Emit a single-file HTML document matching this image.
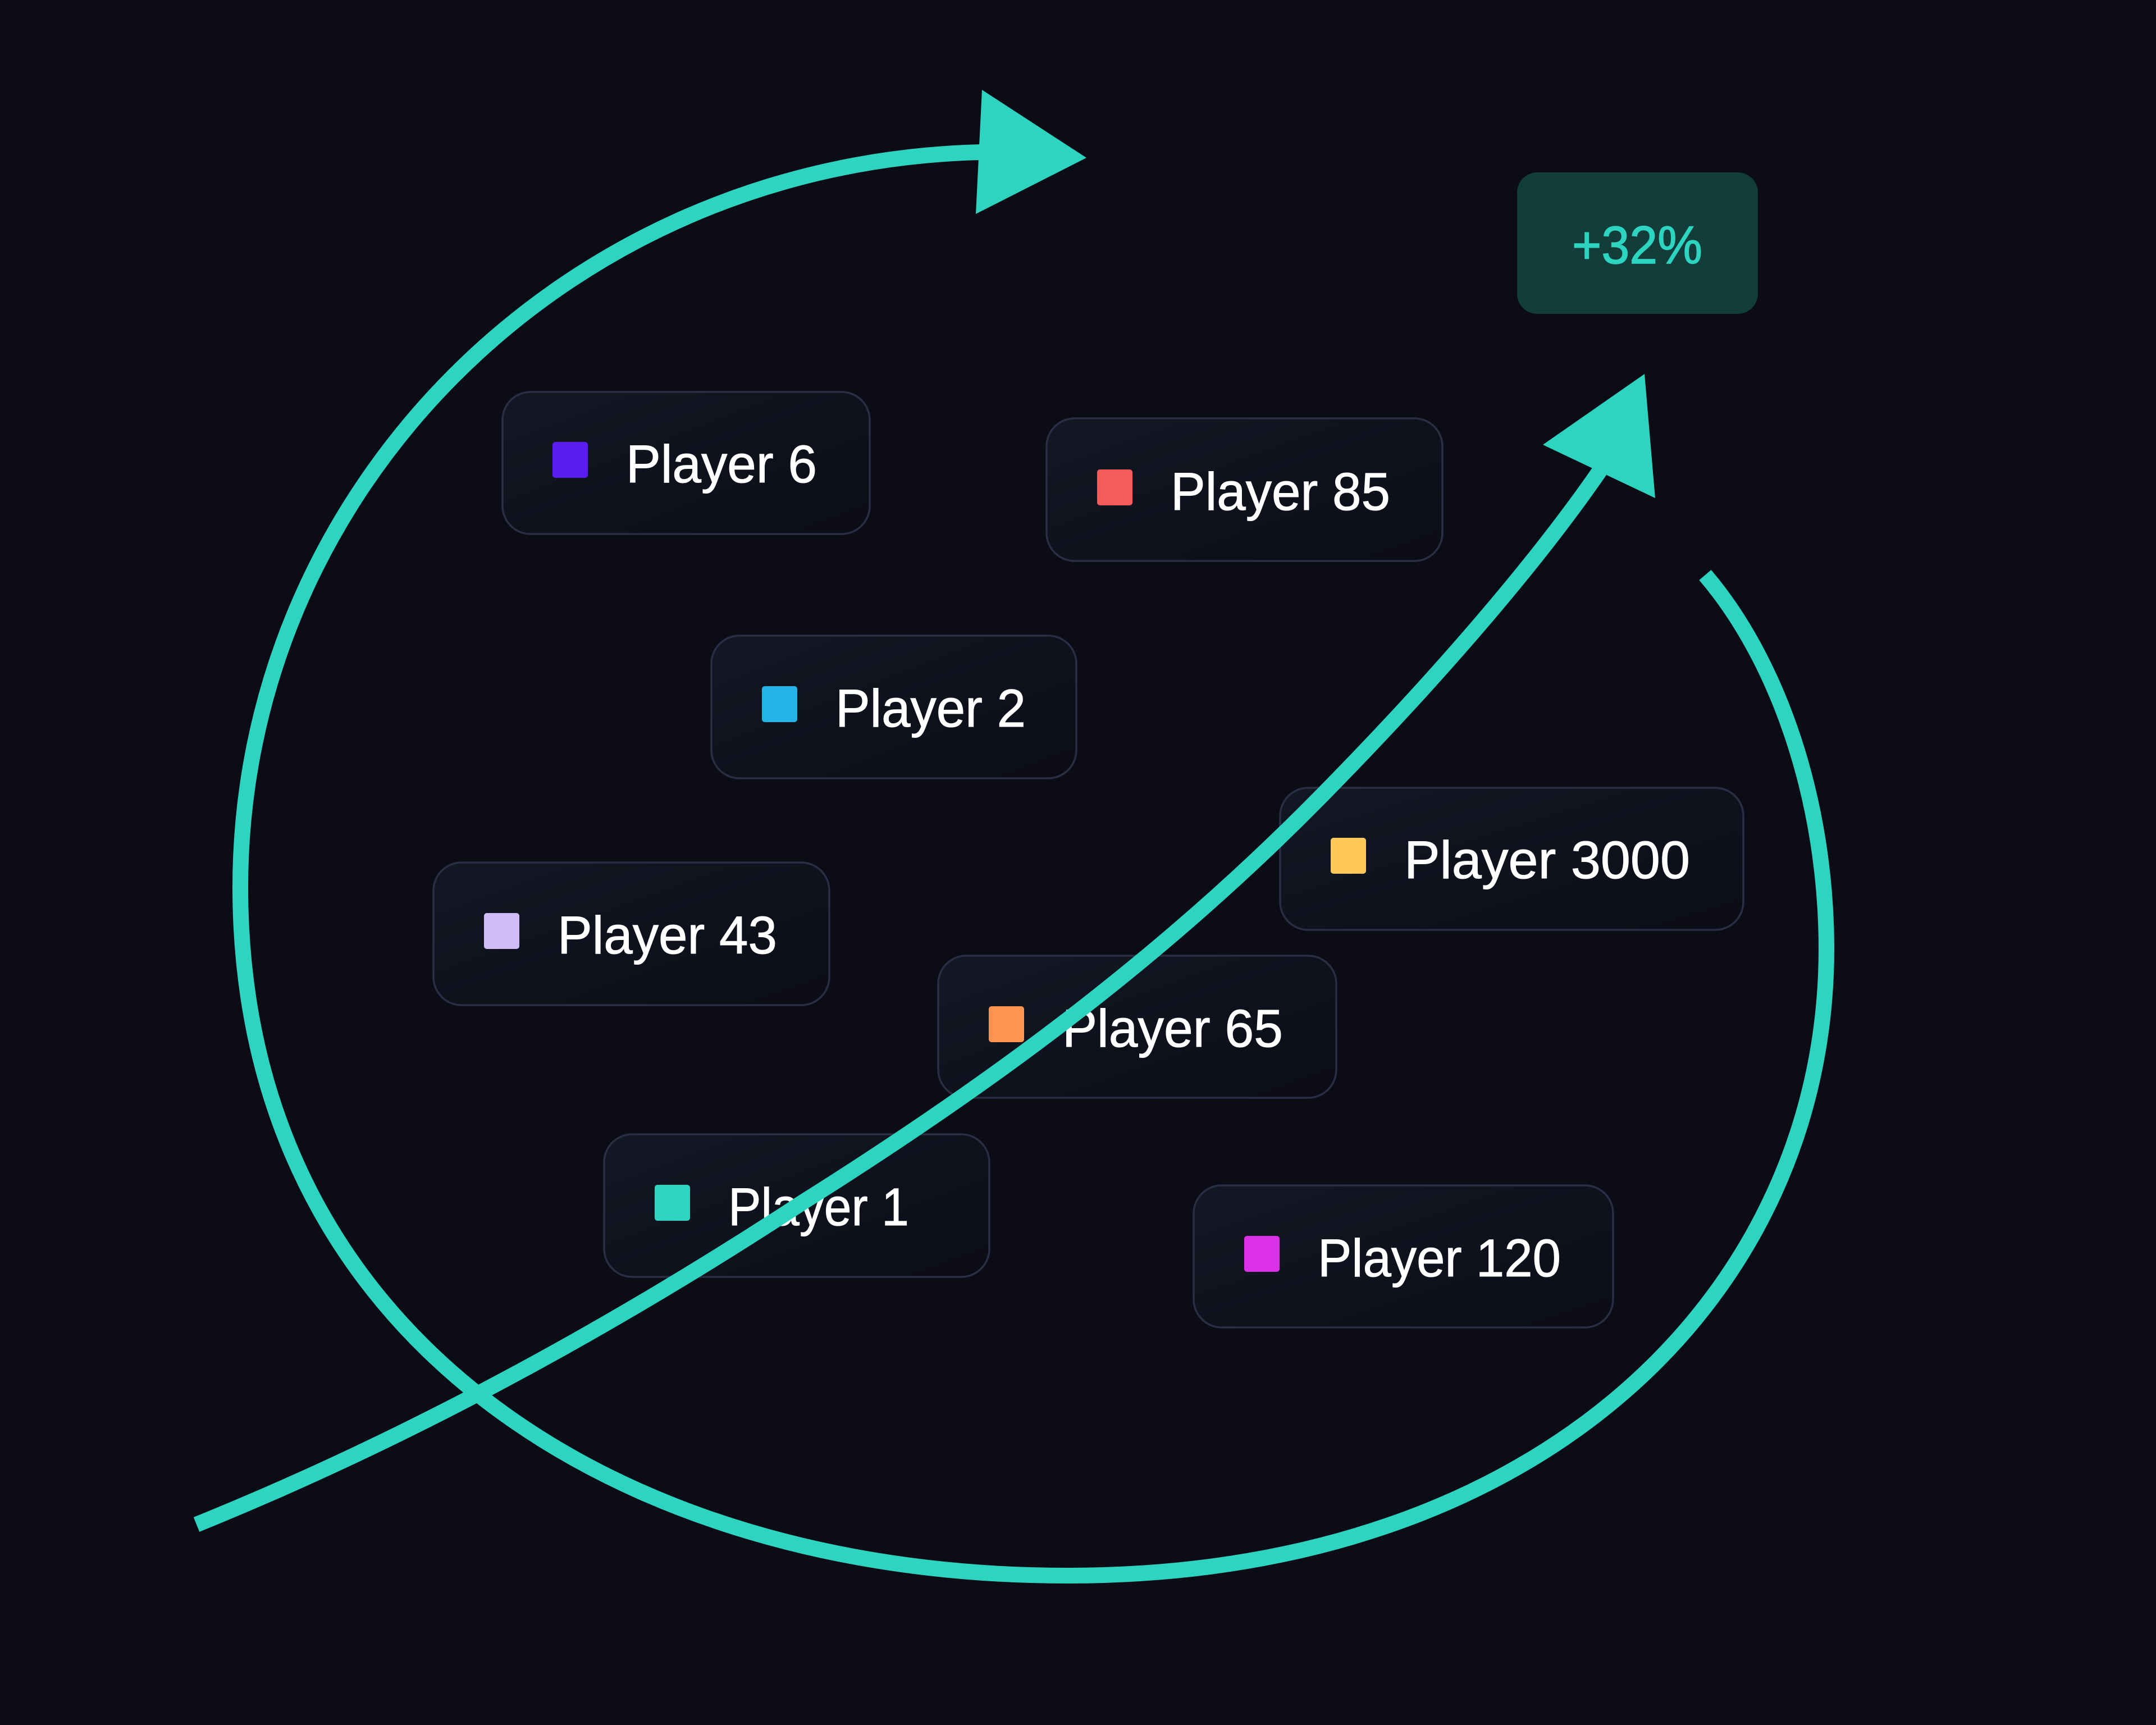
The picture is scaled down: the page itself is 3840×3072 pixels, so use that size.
<!DOCTYPE html>
<html><head><meta charset="utf-8"><style>
html,body{margin:0;padding:0;background:#0b0c16;width:3840px;height:3072px;overflow:hidden}
svg{display:block}
text{font-family:"Liberation Sans",sans-serif}
.b{stroke:#2a2e45;stroke-width:3.5;fill:url(#g)}
.t{fill:#fff;font-size:95px;stroke:#fff;stroke-width:1}
</style></head><body>
<svg width="3840" height="3072" viewBox="0 0 3840 3072" xmlns="http://www.w3.org/2000/svg">
<defs><linearGradient id="g" x1="0" y1="0" x2="1" y2="1"><stop offset="0" stop-color="#121824"/><stop offset="1" stop-color="#0b0c16"/></linearGradient></defs>
<rect width="3840" height="3072" fill="#0b0c16"/>
<rect class="b" x="895" y="698" width="654" height="253" rx="50"/><rect x="984" y="787" width="63" height="64" rx="5" fill="#5b1cf0"/><text class="t" x="1115" y="859" textLength="340" lengthAdjust="spacingAndGlyphs">Player 6</text>
<rect class="b" x="1864" y="745" width="705" height="254" rx="50"/><rect x="1954" y="836" width="63" height="64" rx="5" fill="#f55b5b"/><text class="t" x="2085" y="908" textLength="391" lengthAdjust="spacingAndGlyphs">Player 85</text>
<rect class="b" x="1267" y="1132" width="650" height="254" rx="50"/><rect x="1357" y="1222" width="63" height="64" rx="5" fill="#25b4e6"/><text class="t" x="1488" y="1294" textLength="339" lengthAdjust="spacingAndGlyphs">Player 2</text>
<rect class="b" x="2280" y="1403" width="825" height="253" rx="50"/><rect x="2370" y="1492" width="63" height="64" rx="5" fill="#ffc857"/><text class="t" x="2501" y="1564" textLength="509" lengthAdjust="spacingAndGlyphs">Player 3000</text>
<rect class="b" x="772" y="1536" width="705" height="254" rx="50"/><rect x="862" y="1626" width="63" height="64" rx="5" fill="#cdbcf8"/><text class="t" x="993" y="1698" textLength="391" lengthAdjust="spacingAndGlyphs">Player 43</text>
<rect class="b" x="1671" y="1702" width="709" height="253" rx="50"/><rect x="1761" y="1792" width="63" height="64" rx="5" fill="#ff944f"/><text class="t" x="1892" y="1864" textLength="393" lengthAdjust="spacingAndGlyphs">Player 65</text>
<rect class="b" x="1076" y="2020" width="686" height="254" rx="50"/><rect x="1166" y="2110" width="63" height="64" rx="5" fill="#2dd4bf"/><text class="t" x="1297" y="2182" textLength="322" lengthAdjust="spacingAndGlyphs">Player 1</text>
<rect class="b" x="2126" y="2111" width="747" height="253" rx="50"/><rect x="2216" y="2201" width="63" height="64" rx="5" fill="#d930e8"/><text class="t" x="2347" y="2273" textLength="433" lengthAdjust="spacingAndGlyphs">Player 120</text>
<rect x="2702" y="307" width="429" height="252" rx="36" fill="#133d3a"/>
<text x="2800" y="469" font-size="95" fill="#2dd4bf" stroke="#2dd4bf" stroke-width="1.5" textLength="232" lengthAdjust="spacingAndGlyphs">+32%</text>
<g fill="none" stroke="#2dd4bf" stroke-width="28">
<path d="M3037,1024 C3170,1180 3253,1430 3253,1690 C3253,2300 2750,2806 1900,2806 C1100,2806 428,2380 428,1580 C428,880 1000,290 1746,271"/>
<path d="M350,2715 C710,2569 1073,2375 1433,2139 C1733,1950 2051,1725 2351,1420 C2551,1217 2733,1008 2853,833"/>
</g>
<polygon fill="#2dd4bf" points="1749,160 1935,281 1738,381"/>
<polygon fill="#2dd4bf" points="2929,666 2748,792 2948,887"/>
</svg>
</body></html>
